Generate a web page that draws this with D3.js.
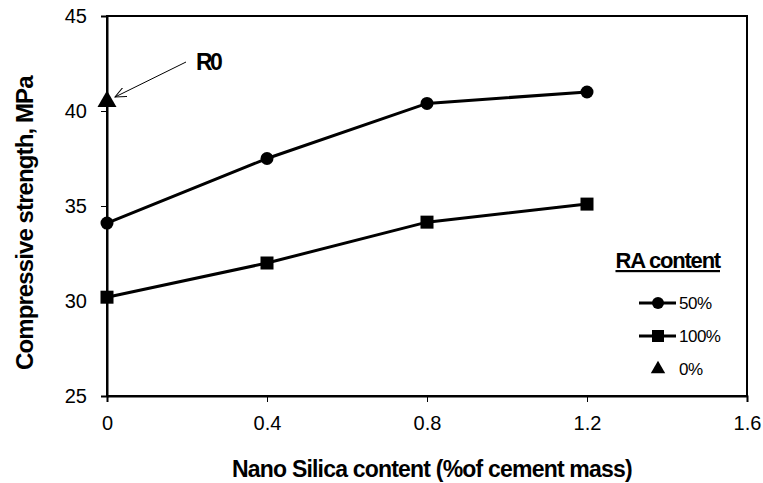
<!DOCTYPE html>
<html>
<head>
<meta charset="utf-8">
<script src="https://cdn.jsdelivr.net/npm/d3@7"></script>
<style>
  body { margin: 0; background: #fff; }
  text { font-family: "Liberation Sans", Arial, sans-serif; }
</style>
</head>
<body>
<svg id="chart" width="763" height="483"></svg>
<script>
const nanoSilica = [0, 0.4, 0.8, 1.2];
const ra50 = [34.1, 37.5, 40.4, 41.0];
const ra100 = [30.2, 32.0, 34.15, 35.1];
const ra0 = [{x: 0, y: 40.5}];
const xTicks = [0, 0.4, 0.8, 1.2, 1.6];
const yTicks = [25, 30, 35, 40, 45];

const margin = {left: 107, right: 16, top: 16, bottom: 87};
const width = 763, height = 483;

const svg = d3.select("#chart");

const x = d3.scaleLinear().domain([0, 1.6]).range([margin.left, width - margin.right]);
const y = d3.scaleLinear().domain([25, 45]).range([height - margin.bottom, margin.top]);

// box
svg.append("rect")
    .attr("x", x(0)).attr("y", y(45))
    .attr("width", x(1.6) - x(0)).attr("height", y(25) - y(45))
    .attr("fill", "none").attr("stroke", "#000").attr("stroke-width", 2);

// axes
const xAxis = svg.append("g")
    .attr("transform", `translate(0,${y(25)})`)
    .call(d3.axisBottom(x).tickValues(xTicks).tickSize(6).tickPadding(14)
        .tickFormat(d => d === 0 ? "0" : d3.format(".1f")(d)));
const yAxis = svg.append("g")
    .attr("transform", `translate(${x(0)},0)`)
    .call(d3.axisLeft(y).tickValues(yTicks).tickSize(6).tickPadding(14));

[xAxis, yAxis].forEach(a => {
    a.select(".domain").attr("stroke-width", 2);
    a.selectAll(".tick line").attr("stroke-width", 1);
    a.selectAll(".tick text").attr("font-size", 20).attr("fill", "#000")
        .style("font-family", "Liberation Sans, Arial, sans-serif");
});

const line = d3.line().x((d, i) => x(nanoSilica[i])).y(d => y(d));

svg.append("path").datum(ra50).attr("d", line)
    .attr("fill", "none").attr("stroke", "#000").attr("stroke-width", 3);
svg.append("path").datum(ra100).attr("d", line)
    .attr("fill", "none").attr("stroke", "#000").attr("stroke-width", 3);

svg.append("g").selectAll("circle").data(ra50).join("circle")
    .attr("cx", (d, i) => x(nanoSilica[i])).attr("cy", d => y(d)).attr("r", 6.5);

svg.append("g").selectAll("rect").data(ra100).join("rect")
    .attr("x", (d, i) => x(nanoSilica[i]) - 6.5).attr("y", d => y(d) - 6.5)
    .attr("width", 13).attr("height", 13);

const tri = d3.symbol().type(d3.symbolTriangle).size(156);
svg.append("g").selectAll("path").data(ra0).join("path")
    .attr("d", tri)
    .attr("transform", d => `translate(${x(d.x)},${y(d.y)})`);

// R0 annotation
const defs = svg.append("defs");
defs.append("marker")
    .attr("id", "arrow").attr("viewBox", "0 0 12 10")
    .attr("refX", 11).attr("refY", 5)
    .attr("markerWidth", 12).attr("markerHeight", 10)
    .attr("markerUnits", "userSpaceOnUse")
    .attr("orient", "auto")
    .append("path").attr("d", "M0,0 L11,5 L0,10")
    .attr("fill", "none").attr("stroke", "#000").attr("stroke-width", 1);

svg.append("line")
    .attr("x1", 186).attr("y1", 62).attr("x2", 115).attr("y2", 97)
    .attr("stroke", "#000").attr("stroke-width", 1)
    .attr("marker-end", "url(#arrow)");
svg.append("text").attr("x", 196).attr("y", 70)
    .attr("font-size", 23).attr("font-weight", "bold").attr("letter-spacing", -2.5)
    .text("R0");

// axis titles
svg.append("text")
    .attr("x", 232).attr("y", 477)
    .attr("font-size", 23).attr("font-weight", "bold").attr("letter-spacing", -0.8)
    .text("Nano Silica  content (%of cement mass)");

svg.append("text")
    .attr("transform", `translate(33,370) rotate(-90)`)
    .attr("font-size", 24).attr("font-weight", "bold").attr("letter-spacing", -0.9)
    .text("Compressive strength,  MPa");

// legend
const legend = svg.append("g");
legend.append("text")
    .attr("x", 720).attr("y", 268).attr("text-anchor", "end")
    .attr("font-size", 22).attr("font-weight", "bold").attr("letter-spacing", -1.2)
    .attr("text-decoration", "underline")
    .text("RA content");

const legendItems = [
    {label: "50%", shape: "circle", line: true},
    {label: "100%", shape: "square", line: true},
    {label: "0%", shape: "triangle", line: false}
];
const legendY = d3.scalePoint().domain(legendItems.map(d => d.label)).range([303, 369]);

legendItems.forEach(d => {
    const gy = legendY(d.label);
    const g = legend.append("g").attr("transform", `translate(658,${gy})`);
    if (d.line) {
        g.append("line").attr("x1", -19).attr("x2", 18)
            .attr("stroke", "#000").attr("stroke-width", 3);
    }
    if (d.shape === "circle") g.append("circle").attr("r", 6);
    if (d.shape === "square") g.append("rect").attr("x", -6).attr("y", -6).attr("width", 12).attr("height", 12);
    if (d.shape === "triangle") g.append("path").attr("d", d3.symbol().type(d3.symbolTriangle).size(90));
    g.append("text").attr("x", 21).attr("dy", "0.35em")
        .attr("font-size", 17).attr("letter-spacing", -0.5).text(d.label);
});
</script>
</body>
</html>
